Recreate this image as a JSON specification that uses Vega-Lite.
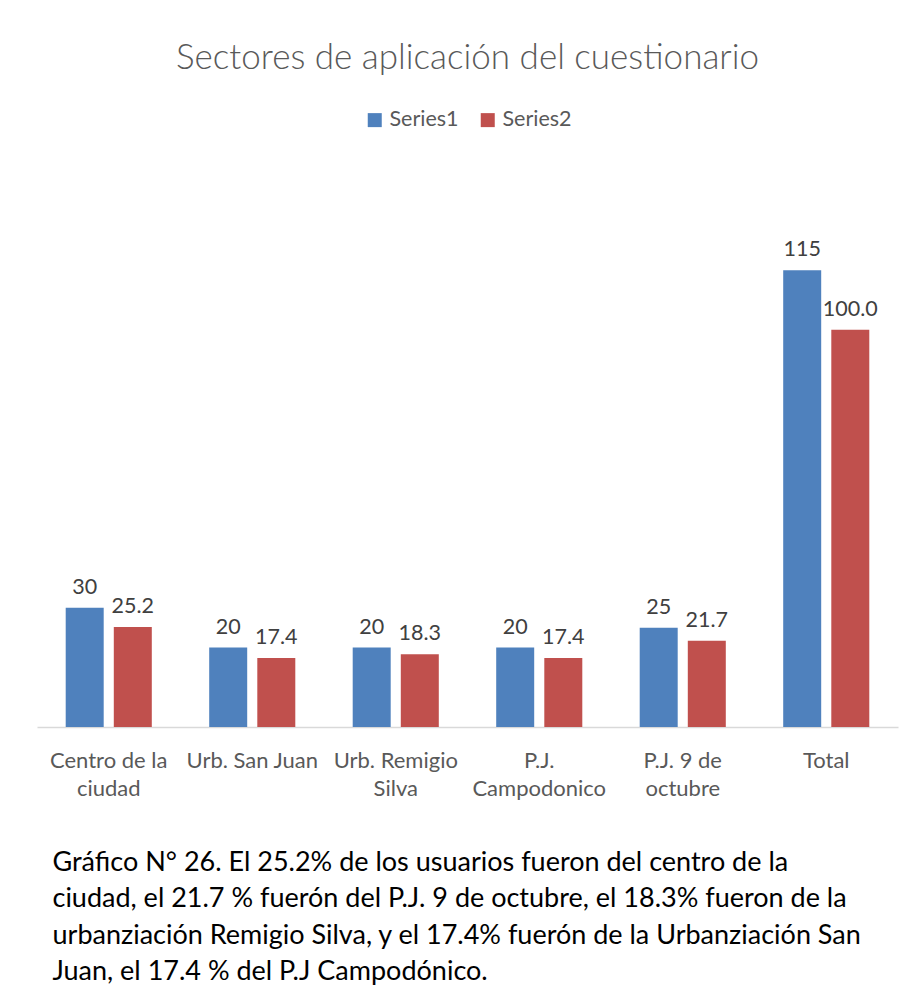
{
  "$schema": "https://vega.github.io/schema/vega-lite/v6.json",
  "width": 861,
  "height": 556,
  "autosize": {"type": "none"},
  "padding": {"left": 37, "top": 171, "right": 16, "bottom": 276},
  "background": "white",
  "title": {
    "text": "Sectores de aplicación del cuestionario",
    "font": "Lato",
    "fontSize": 35,
    "fontWeight": 300,
    "color": "#595959",
    "anchor": "middle",
    "offset": 33
  },
  "data": {
    "values": [
      {"sector": "Centro de la ciudad", "series": "Series1", "value": 30},
      {"sector": "Centro de la ciudad", "series": "Series2", "value": 25.2},
      {"sector": "Urb. San Juan", "series": "Series1", "value": 20},
      {"sector": "Urb. San Juan", "series": "Series2", "value": 17.4},
      {"sector": "Urb. Remigio Silva", "series": "Series1", "value": 20},
      {"sector": "Urb. Remigio Silva", "series": "Series2", "value": 18.3},
      {"sector": "P.J. Campodonico", "series": "Series1", "value": 20},
      {"sector": "P.J. Campodonico", "series": "Series2", "value": 17.4},
      {"sector": "P.J. 9 de octubre", "series": "Series1", "value": 25},
      {"sector": "P.J. 9 de octubre", "series": "Series2", "value": 21.7},
      {"sector": "Total", "series": "Series1", "value": 115},
      {"sector": "Total", "series": "Series2", "value": 100}
    ]
  },
  "encoding": {
    "x": {
      "field": "sector",
      "type": "nominal",
      "sort": null,
      "scale": {"paddingInner": 0.4, "paddingOuter": 0.2},
      "axis": {
        "labelAngle": 0,
        "labelFont": "Lato",
        "labelFontSize": 22,
        "labelColor": "#595959",
        "labelPadding": 23,
        "labelLineHeight": 28,
        "labelBaseline": "top",
        "ticks": false,
        "domainColor": "#D9D9D9",
        "domainWidth": 1.5,
        "labelExpr": "datum.value == 'Centro de la ciudad' ? ['Centro de la','ciudad'] : datum.value == 'Urb. Remigio Silva' ? ['Urb. Remigio','Silva'] : datum.value == 'P.J. Campodonico' ? ['P.J.','Campodonico'] : datum.value == 'P.J. 9 de octubre' ? ['P.J. 9 de','octubre'] : datum.value",
        "title": [
          "Gráfico N° 26. El  25.2% de los usuarios fueron del centro de la",
          "ciudad, el 21.7 % fuerón del P.J. 9 de octubre, el 18.3% fueron de  la",
          "urbanziación Remigio Silva, y el 17.4% fuerón de la Urbanziación San",
          "Juan, el 17.4 % del  P.J Campodónico."
        ],
        "titleFont": "Lato",
        "titleFontSize": 27,
        "titleFontWeight": "normal",
        "titleColor": "#000000",
        "titleAnchor": "start",
        "titleAlign": "left",
        "titleBaseline": "alphabetic",
        "titleX": 15,
        "titleY": 143,
        "titleLineHeight": 36.5
      }
    },
    "xOffset": {"field": "series", "type": "nominal", "scale": {"paddingInner": 0.21, "paddingOuter": 0}},
    "y": {"field": "value", "type": "quantitative", "scale": {"domain": [0, 140]}, "axis": null}
  },
  "layer": [
    {
      "mark": {"type": "bar"},
      "encoding": {
        "color": {
          "field": "series",
          "type": "nominal",
          "scale": {"domain": ["Series1", "Series2"], "range": ["#4F81BD", "#C0504D"]},
          "legend": {
            "orient": "top",
            "direction": "horizontal",
            "title": null,
            "symbolType": "square",
            "symbolSize": 196,
            "symbolStrokeWidth": 0,
            "labelFont": "Lato",
            "labelFontSize": 21.5,
            "labelColor": "#595959",
            "columnPadding": 18,
            "offset": 40
          }
        }
      }
    },
    {
      "mark": {"type": "text", "baseline": "alphabetic", "dy": -14, "font": "Lato", "fontSize": 21.5, "color": "#404040"},
      "encoding": {
        "text": {
          "condition": {"test": "datum.series == 'Series2'", "field": "value", "type": "quantitative", "format": ".1f"},
          "field": "value",
          "type": "quantitative",
          "format": "d"
        }
      }
    }
  ],
  "config": {
    "view": {"stroke": null},
    "legend": {"layout": {"top": {"anchor": "middle"}}}
  }
}
